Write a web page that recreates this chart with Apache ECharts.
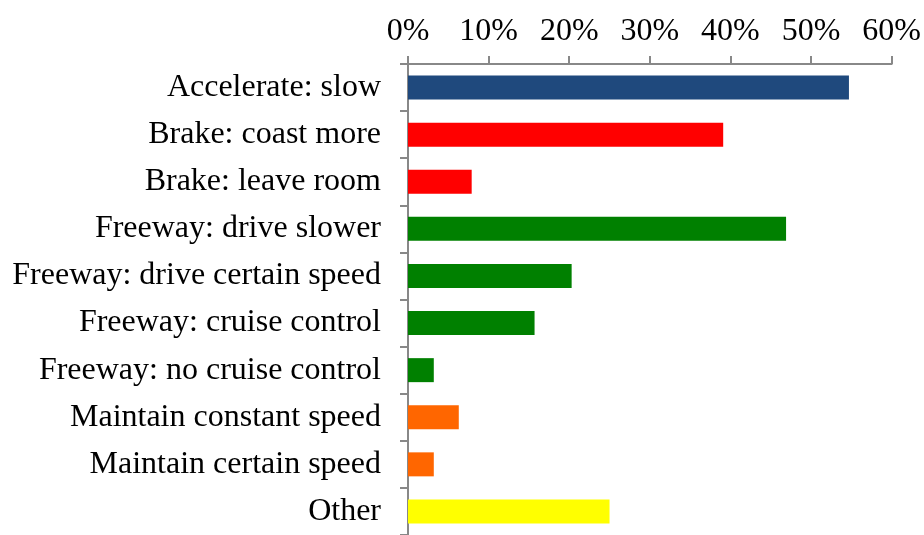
<!DOCTYPE html>
<html>
<head>
<meta charset="utf-8">
<script src="https://cdn.jsdelivr.net/npm/echarts@6/dist/echarts.min.js"></script>
<style>
    html, body { margin: 0; padding: 0; background: #fff; }
    #chart { width: 924px; height: 535px; }
</style>
</head>
<body>
<div id="chart"></div>
<script>
// categories, top to bottom
const categories = [
    'Accelerate: slow',
    'Brake: coast more',
    'Brake: leave room',
    'Freeway: drive slower',
    'Freeway: drive certain speed',
    'Freeway: cruise control',
    'Freeway: no cruise control',
    'Maintain constant speed',
    'Maintain certain speed',
    'Other'
];
// share of responses, percent
const shares = [54.7, 39.1, 7.9, 46.9, 20.3, 15.7, 3.2, 6.3, 3.2, 25.0];
const tickLabels = ['0%', '10%', '20%', '30%', '40%', '50%', '60%'];

// bar colours by group
const barColors = ['#1F497D', '#FF0000', '#FF0000', '#008000', '#008000', '#008000', '#008000', '#FF6600', '#FF6600', '#FFFF00'];

const font = '"Liberation Serif", "Times New Roman", serif';

const chart = echarts.init(document.getElementById('chart'));
chart.setOption({
    animation: false,
    backgroundColor: '#fff',
    grid: { left: 408, right: 31, top: 64, bottom: -3, containLabel: false },
    xAxis: {
        type: 'value',
        position: 'top',
        min: 0,
        max: 60,
        interval: 10,
        axisLine: { show: true, lineStyle: { color: '#888', width: 2 } },
        axisTick: { show: true, length: 8, lineStyle: { color: '#888', width: 2 } },
        splitLine: { show: false },
        axisLabel: {
            margin: 16,
            color: '#000',
            fontFamily: font,
            fontSize: 32,
            formatter: (v) => tickLabels[Math.round(v / 10)]
        }
    },
    yAxis: {
        type: 'category',
        inverse: true,
        data: categories,
        axisLine: { show: true, lineStyle: { color: '#888', width: 2 } },
        axisTick: { show: true, length: 8, lineStyle: { color: '#888', width: 2 } },
        axisLabel: {
            margin: 27,
            color: '#000',
            fontFamily: font,
            fontSize: 32
        }
    },
    series: [
        {
            type: 'bar',
            barWidth: 24,
            data: shares.map((v, i) => ({ value: v, itemStyle: { color: barColors[i] } }))
        }
    ]
});
</script>
</body>
</html>
